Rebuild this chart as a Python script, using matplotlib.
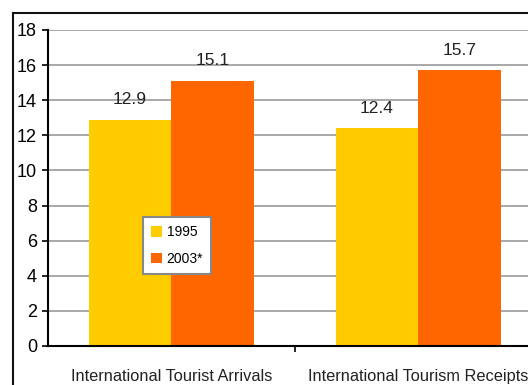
import matplotlib.pyplot as plt
from matplotlib.lines import Line2D

# data
categories = ["International Tourist Arrivals", "International Tourism Receipts"]
series_names = ["1995", "2003*"]
values_1995 = [12.9, 12.4]
values_2003 = [15.1, 15.7]
colors = ["#FFCC00", "#FF6600"]

plt.rcParams["font.family"] = ["Liberation Sans", "DejaVu Sans"]

fig = plt.figure(figsize=(5.28, 3.85), dpi=100)
ax = fig.add_axes([0.0909, 0.1013, 0.935, 0.8208])

x = list(range(len(categories)))
w = 0.335
b1 = ax.bar([i - w / 2 for i in x], values_1995, width=w, color=colors[0], label=series_names[0], zorder=2)
b2 = ax.bar([i + w / 2 for i in x], values_2003, width=w, color=colors[1], label=series_names[1], zorder=2)

for bars in (b1, b2):
    for rect in bars:
        h = rect.get_height()
        ax.annotate(f"{h:.1f}", (rect.get_x() + rect.get_width() / 2, h),
                    xytext=(0, 9), textcoords="offset points",
                    ha="center", va="bottom", fontsize=12.5, color="#222222")

ax.set_xlim(-0.5, 1.5)
ax.set_ylim(0, 18)
ax.set_yticks(range(0, 19, 2))
ax.tick_params(axis="y", labelsize=13, length=4, width=1.2, direction="out", pad=4)
ax.set_xticks([0.5])
ax.set_xticklabels([""])
ax.tick_params(axis="x", length=4, width=1.2, direction="out")
for i, c in enumerate(categories):
    ax.text(i, -1.3, c, ha="center", va="top", fontsize=11.8, color="#222222")

ax.yaxis.grid(True, color="#999999", linewidth=1.2, zorder=0)
ax.set_axisbelow(True)
for s in ("top", "right"):
    ax.spines[s].set_visible(False)
ax.spines["left"].set_linewidth(1.5)
ax.spines["bottom"].set_linewidth(1.5)

leg = ax.legend(loc="upper left", bbox_to_anchor=(143 / 528, 1 - 217 / 385),
                bbox_transform=fig.transFigure, borderaxespad=0, fontsize=10,
                fancybox=False, handlelength=0.8, handleheight=0.8, borderpad=0.6,
                labelspacing=0.9, handletextpad=0.3, framealpha=1)
leg.get_frame().set_edgecolor("#888888")
leg.get_frame().set_linewidth(1.5)

# outer chart border
fig.add_artist(Line2D([13 / 528, 13 / 528], [0, 1 - 13 / 385], color="#111111", linewidth=1.5, transform=fig.transFigure))
fig.add_artist(Line2D([13 / 528, 1], [1 - 13 / 385, 1 - 13 / 385], color="#111111", linewidth=1.5, transform=fig.transFigure))

fig.savefig("out.png", dpi=100)
